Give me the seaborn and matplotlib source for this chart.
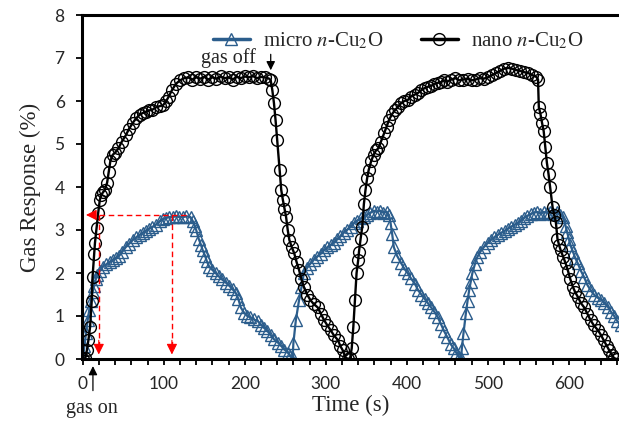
import matplotlib
matplotlib.use("Agg")
import seaborn as sns
from matplotlib import pyplot as plt
from matplotlib.ticker import MultipleLocator

# nano n-Cu2O response (time in s, response in %)
nano_t = [0, 3, 5, 7, 9, 11, 12, 14, 15, 17, 19, 21, 23, 25, 27, 30, 32, 34, 37, 40,
          44, 48, 53, 57, 62, 66, 70, 74, 78, 82, 86, 90, 95, 99, 103, 106, 110, 115, 120, 125,
          130, 135, 140, 145, 150, 155, 160, 165, 170, 175, 180, 185, 190, 195, 200, 205, 210, 215, 220, 225,
          230, 232, 234, 236, 238, 240, 243, 245, 247, 249, 251, 253, 255, 258, 261, 264, 267, 270, 273, 277,
          281, 285, 290, 294, 298, 302, 306, 310, 315, 318, 321, 324, 327, 330, 332, 334, 336, 338, 340, 341,
          343, 345, 347, 349, 351, 353, 356, 359, 362, 365, 368, 372, 375, 378, 382, 386, 389, 393, 397, 401,
          405, 410, 414, 418, 422, 426, 430, 434, 438, 442, 446, 450, 455, 460, 465, 470, 475, 480, 485, 490,
          495, 500, 505, 510, 515, 520, 525, 530, 535, 540, 545, 550, 555, 560, 562, 563, 565, 567, 569, 571,
          573, 575, 577, 580, 582, 584, 586, 588, 590, 593, 596, 599, 602, 605, 608, 611, 615, 619, 623, 627,
          631, 636, 640, 643, 647, 650, 653, 656, 659]
nano_resp = [0.0, 0.02, 0.2, 0.45, 0.75, 1.35, 1.9, 2.45, 2.7, 3.05, 3.4, 3.7, 3.82, 3.88, 3.92, 4.1, 4.35, 4.6, 4.75, 4.8,
             4.9, 5.05, 5.2, 5.35, 5.5, 5.6, 5.68, 5.72, 5.75, 5.78, 5.8, 5.85, 5.88, 5.9, 6.0, 6.1, 6.25, 6.4, 6.48, 6.53,
             6.55, 6.5, 6.55, 6.52, 6.56, 6.5, 6.55, 6.52, 6.57, 6.53, 6.55, 6.5, 6.56, 6.53, 6.57, 6.55, 6.58, 6.53, 6.56, 6.55,
             6.52, 6.48, 6.25, 5.95, 5.55, 5.1, 4.4, 3.93, 3.7, 3.5, 3.3, 3.0, 2.77, 2.6, 2.46, 2.25, 2.07, 1.85, 1.67, 1.5,
             1.37, 1.28, 1.2, 1.05, 0.9, 0.78, 0.67, 0.55, 0.44, 0.3, 0.2, 0.05, 0.0, 0.02, 0.25, 0.75, 1.37, 2.0, 2.3, 2.5,
             2.8, 3.07, 3.6, 3.93, 4.2, 4.4, 4.6, 4.75, 4.85, 4.9, 5.05, 5.25, 5.4, 5.56, 5.7, 5.8, 5.86, 5.95, 6.0, 6.02,
             6.1, 6.15, 6.19, 6.25, 6.3, 6.33, 6.35, 6.4, 6.42, 6.44, 6.48, 6.45, 6.5, 6.53, 6.48, 6.5, 6.52, 6.48, 6.5, 6.53,
             6.52, 6.55, 6.6, 6.65, 6.7, 6.75, 6.77, 6.75, 6.72, 6.7, 6.67, 6.65, 6.6, 6.56, 6.5, 5.86, 5.7, 5.49, 5.3, 4.93,
             4.56, 4.3, 4.0, 3.53, 3.35, 3.19, 2.8, 2.65, 2.53, 2.38, 2.23, 2.05, 1.85, 1.68, 1.55, 1.45, 1.3, 1.2, 1.05, 0.9,
             0.78, 0.67, 0.55, 0.44, 0.3, 0.2, 0.1, 0.02, 0.0]

# micro n-Cu2O response
micro_t = [0, 2, 4, 6, 8, 10, 12, 14, 16, 18, 21, 25, 29, 33, 37, 41, 45, 49, 53, 57,
           62, 66, 70, 74, 78, 82, 86, 90, 95, 99, 103, 107, 111, 115, 119, 124, 128, 133, 136, 138,
           140, 143, 146, 148, 151, 153, 156, 160, 164, 168, 172, 177, 181, 185, 189, 192, 195, 199, 203, 207,
           211, 216, 220, 224, 228, 232, 236, 241, 245, 249, 253, 256, 259, 260, 263, 267, 270, 273, 277, 281,
           285, 289, 294, 298, 302, 306, 310, 314, 318, 322, 326, 331, 335, 339, 343, 347, 351, 355, 359, 363,
           367, 371, 375, 378, 380, 382, 384, 388, 393, 397, 401, 405, 410, 414, 418, 422, 426, 430, 434, 438,
           442, 446, 450, 454, 458, 461, 464, 467, 468, 470, 473, 475, 477, 479, 481, 484, 487, 491, 495, 500,
           504, 508, 512, 516, 521, 525, 529, 533, 537, 541, 545, 549, 553, 557, 561, 565, 569, 573, 577, 581,
           585, 589, 593, 596, 598, 600, 602, 605, 608, 611, 615, 619, 623, 627, 631, 636, 640, 644, 648, 652,
           656, 660, 664]
micro_resp = [0.0, 0.3, 0.6, 0.9, 1.15, 1.35, 1.55, 1.7, 1.85, 1.95, 2.05, 2.15, 2.2, 2.25, 2.3, 2.35, 2.4, 2.5, 2.6, 2.68,
              2.77, 2.83, 2.88, 2.93, 2.98, 3.03, 3.07, 3.12, 3.2, 3.25, 3.28, 3.3, 3.3, 3.32, 3.3, 3.3, 3.32, 3.3, 3.2, 3.1,
              3.0, 2.8, 2.65, 2.53, 2.4, 2.28, 2.15, 2.07, 2.0, 1.92, 1.85, 1.77, 1.7, 1.62, 1.53, 1.4, 1.2, 1.08, 1.0, 0.97,
              0.92, 0.88, 0.8, 0.72, 0.65, 0.55, 0.46, 0.38, 0.3, 0.22, 0.15, 0.08, 0.02, 0.37, 0.9, 1.37, 1.67, 2.0, 2.12, 2.22,
              2.3, 2.38, 2.45, 2.53, 2.6, 2.65, 2.7, 2.78, 2.85, 2.93, 3.0, 3.08, 3.16, 3.22, 3.27, 3.3, 3.35, 3.4, 3.45, 3.42,
              3.45, 3.4, 3.43, 3.35, 3.16, 2.9, 2.6, 2.4, 2.23, 2.1, 2.0, 1.88, 1.75, 1.6, 1.5, 1.4, 1.3, 1.2, 1.1, 0.98,
              0.82, 0.65, 0.51, 0.35, 0.25, 0.15, 0.05, 0.02, 0.25, 0.6, 1.07, 1.35, 1.6, 1.8, 2.0, 2.2, 2.37, 2.5, 2.6, 2.7,
              2.77, 2.83, 2.88, 2.93, 2.98, 3.03, 3.08, 3.12, 3.16, 3.22, 3.28, 3.33, 3.37, 3.4, 3.42, 3.38, 3.42, 3.4, 3.43, 3.38,
              3.42, 3.35, 3.3, 3.1, 2.95, 2.8, 2.65, 2.5, 2.35, 2.23, 2.05, 1.9, 1.72, 1.6, 1.5, 1.42, 1.38, 1.3, 1.22, 1.1,
              1.0, 0.88, 0.78]

# red guide lines (response time / plateau level)
t_resp_start = 19.7
t_resp_end = 110
resp_level = 3.35

micro_color = "#2B5D8C"

sns.set_style("ticks")
plt.rcParams["font.family"] = ["Liberation Serif", "DejaVu Serif"]
plt.rcParams["mathtext.fontset"] = "stix"

fig = plt.figure(figsize=(6.19, 4.24), dpi=100)
ax = fig.add_axes([82 / 619, 65 / 424, 1 - 82 / 619, 344 / 424])

sns.lineplot(x=micro_t, y=micro_resp, ax=ax, sort=False, color=micro_color,
             lw=1.6, marker="^", markersize=8, markerfacecolor="none",
             markeredgecolor=micro_color, markeredgewidth=1.0,
             label=r"micro $n$-Cu$_2$O")
sns.lineplot(x=nano_t, y=nano_resp, ax=ax, sort=False, color="black",
             lw=1.7, marker="o", markersize=8.5, markerfacecolor="none",
             markeredgecolor="black", markeredgewidth=1.0,
             label=r"nano $n$-Cu$_2$O")

# red dashed guides
red_kw = dict(color="red", lw=1.0, ls=(0, (4, 2.5)))
ax.plot([t_resp_start, t_resp_start], [resp_level, 0.3], **red_kw)
ax.plot([t_resp_end, t_resp_end], [resp_level, 0.3], **red_kw)
ax.plot([127, 6], [resp_level, resp_level], **red_kw)
head = dict(arrowstyle="-|>", color="red", mutation_scale=16, lw=0.8)
ax.annotate("", xy=(t_resp_start, 0.04), xytext=(t_resp_start, 0.5), arrowprops=head)
ax.annotate("", xy=(t_resp_end, 0.04), xytext=(t_resp_end, 0.5), arrowprops=head)
ax.annotate("", xy=(0.5, resp_level), xytext=(16, resp_level), arrowprops=head)

# gas on / gas off markers
blk = dict(arrowstyle="-|>", color="black", mutation_scale=13, lw=0.9)
ax.text(180, 7.0, "gas off", ha="center", va="center", fontsize=14.5)
ax.annotate("", xy=(232, 6.65), xytext=(232, 7.15), arrowprops=blk)
ax.annotate("", xy=(12.5, -0.1), xytext=(12.5, -0.8), arrowprops=blk, annotation_clip=False)
ax.text(11, -1.14, "gas on", ha="center", va="center", fontsize=14.5, clip_on=False)

ax.set_xlim(-1, 662)
ax.set_ylim(0, 8)
ax.xaxis.set_major_locator(MultipleLocator(100))
ax.xaxis.set_minor_locator(MultipleLocator(20))
ax.yaxis.set_major_locator(MultipleLocator(1))
ax.tick_params(axis="both", which="both", direction="out", length=4.5, width=1.3,
               labelsize=12.5, labelfontfamily="Lato", color="black")
ax.tick_params(axis="x", pad=8)
ax.tick_params(axis="y", pad=8)

for side in ["left", "bottom", "top"]:
    ax.spines[side].set_linewidth(2.2)
    ax.spines[side].set_color("black")
ax.spines["right"].set_visible(False)

ax.set_xlabel("Time (s)", fontsize=16.5, labelpad=2)
ax.set_ylabel("Gas Response (%)", fontsize=16.5, labelpad=10)

leg = ax.legend(loc="center", bbox_to_anchor=(0.588, 0.924), ncol=2, frameon=False,
                fontsize=15, handlelength=1.8, handletextpad=0.6, columnspacing=1.8)
for line in leg.get_lines():
    line.set_linewidth(2.5)

fig.savefig("out.png", dpi=100)
